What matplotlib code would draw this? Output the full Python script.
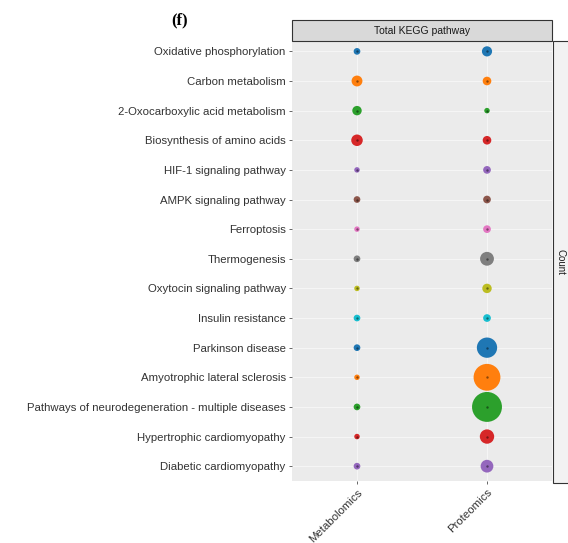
import matplotlib.pyplot as plt
from matplotlib.patches import Rectangle

plt.rcParams['font.family'] = ['Liberation Sans', 'DejaVu Sans']

pathways = ['Oxidative phosphorylation', 'Carbon metabolism', '2-Oxocarboxylic acid metabolism',
            'Biosynthesis of amino acids', 'HIF-1 signaling pathway', 'AMPK signaling pathway',
            'Ferroptosis', 'Thermogenesis', 'Oxytocin signaling pathway', 'Insulin resistance',
            'Parkinson disease', 'Amyotrophic lateral sclerosis',
            'Pathways of neurodegeneration - multiple diseases',
            'Hypertrophic cardiomyopathy', 'Diabetic cardiomyopathy']
omics = ['Metabolomics', 'Proteomics']

# pathway counts per omics layer
count_met = [2, 7, 5, 8, 1, 2, 1, 2, 1, 2, 2, 1, 2, 1, 2]
count_pro = [6, 4, 1, 4, 3, 3, 3, 12, 5, 3, 27, 48, 60, 13, 10]

colors = ['#1f77b4', '#ff7f0e', '#2ca02c', '#d62728', '#9467bd', '#8c564b', '#e377c2',
          '#7f7f7f', '#bcbd22', '#17becf', '#1f77b4', '#ff7f0e', '#2ca02c', '#d62728', '#9467bd']

fig = plt.figure(figsize=(5.68, 5.43), dpi=100)
ax = fig.add_axes([292/568, 1-481/543, 260/568, 440/543])
ax.set_facecolor('#EBEBEB')

ys = list(range(len(pathways)))
for xi, counts in enumerate([count_met, count_pro]):
    ax.scatter([xi]*len(ys), ys, s=[8 + c*7.6 for c in counts], c=colors, zorder=3, linewidths=0)
    ax.scatter([xi]*len(ys), ys, s=3, c='black', alpha=0.45, zorder=4, linewidths=0)

ax.set_xlim(-0.5, 1.5)
ax.set_ylim(14.5, -0.35)
ax.set_xticks([0, 1])
ax.set_xticklabels(omics, rotation=45, ha='right', rotation_mode='anchor')
ax.set_yticks(ys)
ax.set_yticklabels(pathways)
ax.tick_params(axis='both', labelsize=8.2, colors='#4D4D4D', length=2.5, width=0.6,
               labelcolor='#333333', pad=2)
ax.grid(True, color='#F7F7F7', lw=0.6, zorder=0)
ax.set_axisbelow(True)
for sp in ax.spines.values():
    sp.set_visible(False)

# facet strips
fig.patches.append(Rectangle((292/568, 1-41/543), 260/568, 21/543, transform=fig.transFigure,
                             facecolor='#D9D9D9', edgecolor='#333333', lw=0.8))
fig.text(422/568, 1-31/543, 'Total KEGG pathway', ha='center', va='center', fontsize=7.5, color='#1A1A1A')
fig.patches.append(Rectangle((553/568, 1-483/543), 20/568, 442/543, transform=fig.transFigure,
                             facecolor='#F2F2F2', edgecolor='#333333', lw=0.8))
fig.text(561/568, 1-262/543, 'Count', ha='center', va='center', rotation=270, fontsize=7,
         color='#1A1A1A')

fig.text(180/568, 1-20/543, '(f)', ha='center', va='center', fontsize=12, fontweight='bold',
         family='Liberation Serif')

fig.savefig('out.png', dpi=100)
